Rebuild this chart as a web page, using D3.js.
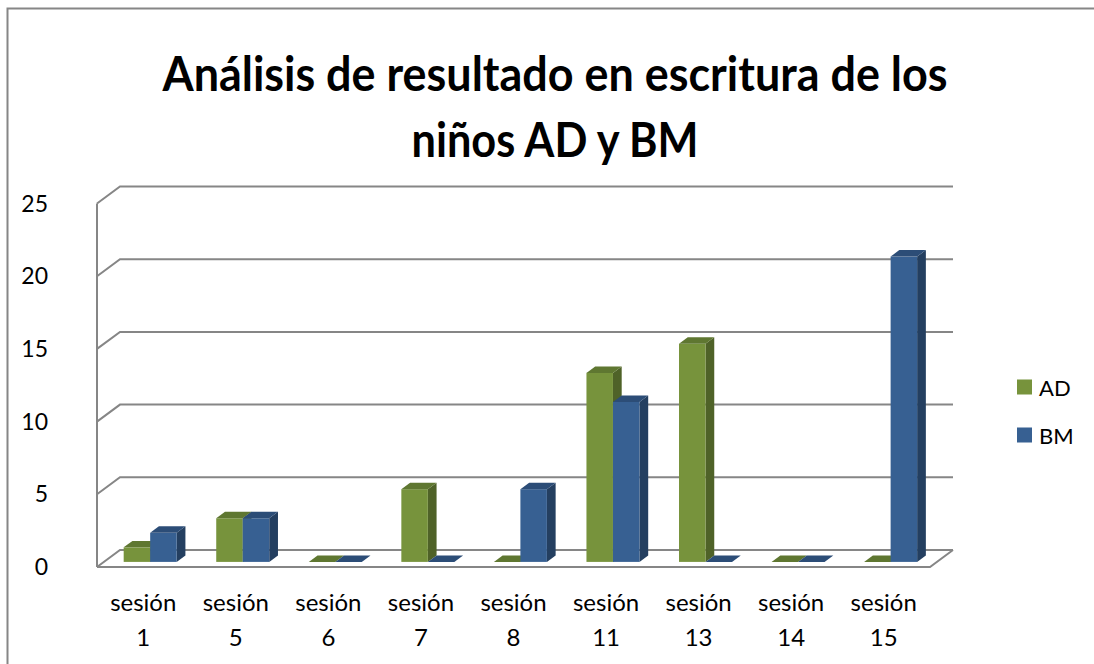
<!DOCTYPE html>
<html lang="es">
<head>
<meta charset="utf-8">
<title></title>
<script src="https://cdn.jsdelivr.net/npm/d3@7"></script>
<style>
  body { margin: 0; background: #fff; }
  text { font-family: Lato, "Open Sans", sans-serif; fill: #000; }
</style>
</head>
<body>
<script>
// data
var sessions = ["1", "5", "6", "7", "8", "11", "13", "14", "15"];
var seriesNames = ["AD", "BM"];
var adValues = [1, 3, 0, 5, 0, 13, 15, 0, 0];
var bmValues = [2, 3, 0, 0, 5, 11, 0, 0, 21];
var yTicks = [0, 5, 10, 15, 20, 25];
var titleLines = ["Análisis de resultado en escritura de los", "niños AD y BM"];

var w = 1094, h = 664;

// colours: front, side, top
var palette = {
  AD: { front: "#77933c", side: "#4f6228", top: "#5f7731" },
  BM: { front: "#376092", side: "#243f60", top: "#2c4d77" }
};

var svg = d3.select("body").append("svg")
  .attr("width", w)
  .attr("height", h);

// chart border (runs off the right and bottom edge)
svg.append("rect")
  .attr("x", 7.5).attr("y", 8.5)
  .attr("width", 1100).attr("height", 700)
  .attr("fill", "none")
  .attr("stroke", "#868686")
  .attr("stroke-width", 2);

// title - Calibri is narrower than Lato, so squeeze to the original widths
var titleWidths = [785, 287];
svg.selectAll("text.title")
  .data(titleLines)
  .enter().append("text")
  .attr("class", "title")
  .attr("x", 555)
  .attr("y", function(d, i) { return 91 + i * 66; })
  .attr("text-anchor", "middle")
  .attr("textLength", function(d, i) { return titleWidths[i]; })
  .attr("lengthAdjust", "spacingAndGlyphs")
  .style("font-size", "48px")
  .style("font-weight", "bold")
  .text(function(d) { return d; });

// plot geometry (front plane)
var plotL = 97, plotR = 930, plotB = 567, plotT = 203.5;
var depthX = 23, depthY = -17;       // wall depth
var f0 = 0.3, f1 = 0.68;             // bar depth band

var xScale = d3.scaleBand()
  .domain(sessions)
  .range([plotL, plotR]);

var yScale = d3.scaleLinear()
  .domain([0, 25])
  .range([plotB, plotT]);

var grid = svg.append("g")
  .attr("fill", "none")
  .attr("stroke", "#868686")
  .attr("stroke-width", 2);

// back wall gridlines + side diagonals
yTicks.forEach(function(t) {
  var y = yScale(t);
  grid.append("path")
    .attr("d", "M" + plotL + "," + y + "L" + (plotL + depthX) + "," + (y + depthY) +
               "L" + (plotR + depthX) + "," + (y + depthY));
});

// left axis line
grid.append("line")
  .attr("x1", plotL).attr("x2", plotL)
  .attr("y1", yScale(25)).attr("y2", yScale(0));

// floor outline
grid.append("path")
  .attr("d", "M" + plotL + "," + plotB + "L" + plotR + "," + plotB +
             "L" + (plotR + depthX) + "," + (plotB + depthY));

// y axis labels
svg.selectAll("text.ytick")
  .data(yTicks)
  .enter().append("text")
  .attr("class", "ytick")
  .attr("x", 48)
  .attr("y", function(d) { return yScale(d) + 8; })
  .attr("text-anchor", "end")
  .style("font-size", "23px")
  .text(function(d) { return d; });

// x axis labels
var xl = svg.selectAll("g.xlab")
  .data(sessions)
  .enter().append("g")
  .attr("class", "xlab");
xl.append("text")
  .attr("x", function(d) { return xScale(d) + xScale.bandwidth() / 2; })
  .attr("y", 611)
  .attr("text-anchor", "middle")
  .style("font-size", "24px")
  .text("sesión");
xl.append("text")
  .attr("x", function(d) { return xScale(d) + xScale.bandwidth() / 2; })
  .attr("y", 646)
  .attr("text-anchor", "middle")
  .style("font-size", "24px")
  .text(function(d) { return d; });

// bars
var barW = 26.5;
var bdx = (f1 - f0) * depthX, bdy = (f1 - f0) * depthY;
var shiftX = f0 * depthX, shiftY = f0 * depthY;

var bars = [];
sessions.forEach(function(s, i) {
  bars.push({ cat: s, series: "AD", value: adValues[i], k: 0 });
  bars.push({ cat: s, series: "BM", value: bmValues[i], k: 1 });
});

var barG = svg.append("g");
bars.forEach(function(b) {
  var c = palette[b.series];
  var x0 = xScale(b.cat) + xScale.bandwidth() / 2 - barW + b.k * barW + shiftX;
  var x1 = x0 + barW;
  var yb = yScale(0) + shiftY;
  var yt = yScale(b.value) + shiftY;
  var g = barG.append("g");
  if (b.value > 0) {
    g.append("path").attr("fill", c.side)
      .attr("d", "M" + x1 + "," + yb + "L" + (x1 + bdx) + "," + (yb + bdy) +
                 "L" + (x1 + bdx) + "," + (yt + bdy) + "L" + x1 + "," + yt + "Z");
    g.append("rect").attr("fill", c.front)
      .attr("x", x0).attr("y", yt)
      .attr("width", barW).attr("height", yb - yt);
  }
  g.append("path").attr("fill", c.top)
    .attr("d", "M" + x0 + "," + yt + "L" + x1 + "," + yt +
               "L" + (x1 + bdx) + "," + (yt + bdy) + "L" + (x0 + bdx) + "," + (yt + bdy) + "Z");
});

// legend
var lg = svg.selectAll("g.legend")
  .data(seriesNames)
  .enter().append("g")
  .attr("class", "legend")
  .attr("transform", function(d, i) { return "translate(1017," + (379.5 + i * 48) + ")"; });
lg.append("rect")
  .attr("width", 15).attr("height", 15)
  .attr("fill", function(d) { return palette[d].front; });
lg.append("text")
  .attr("x", 22).attr("y", 16)
  .style("font-size", "22px")
  .text(function(d) { return d; });
</script>
</body>
</html>
